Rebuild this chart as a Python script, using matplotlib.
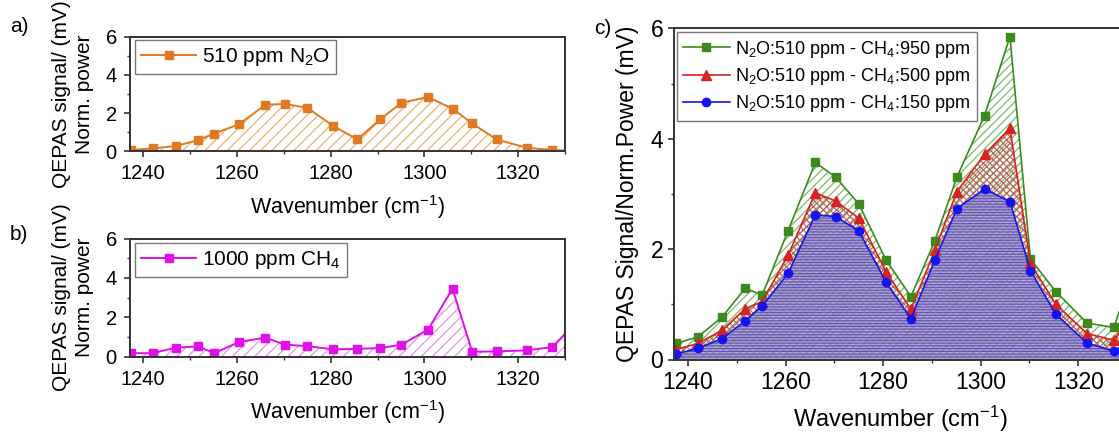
import matplotlib
matplotlib.use("Agg")
import matplotlib.pyplot as plt
from matplotlib.ticker import MultipleLocator

plt.rcParams['font.family'] = ['Liberation Sans', 'DejaVu Sans']
plt.rcParams['mathtext.default'] = 'regular'
plt.rcParams['hatch.linewidth'] = 0.9

# ---------------- data ----------------
wn = [1237.5, 1242, 1247, 1251.7, 1255.2, 1260.5, 1266.1, 1270.3, 1275, 1280.6,
      1285.7, 1290.6, 1295.1, 1300.8, 1306, 1310.2, 1315.4, 1321.8, 1327.3, 1332]

n2o_510 = [0.05, 0.14, 0.26, 0.57, 0.92, 1.41, 2.44, 2.47, 2.28, 1.31,
           0.61, 1.67, 2.54, 2.84, 2.23, 1.45, 0.61, 0.17, 0.05, 0.0]

ch4_1000 = [0.17, 0.17, 0.45, 0.51, 0.17, 0.74, 0.96, 0.60, 0.53, 0.36,
            0.39, 0.43, 0.60, 1.37, 3.45, 0.24, 0.26, 0.31, 0.48, 1.65]

mix_950 = [0.29, 0.41, 0.77, 1.29, 1.17, 2.33, 3.57, 3.30, 2.82, 1.80,
           1.14, 2.15, 3.30, 4.42, 5.85, 1.82, 1.23, 0.66, 0.58, 1.80]
mix_500 = [0.18, 0.29, 0.53, 0.92, 1.05, 1.89, 3.02, 2.87, 2.56, 1.59,
           0.91, 1.98, 3.04, 3.72, 4.19, 1.74, 1.00, 0.47, 0.35, 0.95]
mix_150 = [0.10, 0.20, 0.38, 0.70, 0.97, 1.56, 2.62, 2.59, 2.33, 1.40,
           0.74, 1.80, 2.73, 3.09, 2.86, 1.61, 0.82, 0.30, 0.15, 0.40]

label_a = '510 ppm N$_2$O'
label_b = '1000 ppm CH$_4$'
labels_c = ['N$_2$O:510 ppm - CH$_4$:950 ppm',
            'N$_2$O:510 ppm - CH$_4$:500 ppm',
            'N$_2$O:510 ppm - CH$_4$:150 ppm']
xticks = [1240, 1260, 1280, 1300, 1320]
yticks = [0, 2, 4, 6]

# ---------------- figure ----------------
W, H = 1119, 433
fig = plt.figure(figsize=(W / 100, H / 100), dpi=100)

def px_axes(l, t, r, b):
    return fig.add_axes([l / W, 1 - b / H, (r - l) / W, (b - t) / H])

ax_a = px_axes(130, 37, 565, 151)
ax_b = px_axes(130, 238.5, 565, 356.5)
ax_c = px_axes(674.4, 28.3, 1127, 359.5)

spine_col = '#333333'

def style(ax, fs_tick, xpad, ypad):
    ax.set_xlim(1237.2, 1330)
    ax.set_ylim(0, 6)
    ax.set_xticks(xticks)
    ax.set_yticks(yticks)
    ax.xaxis.set_minor_locator(MultipleLocator(10))
    ax.yaxis.set_minor_locator(MultipleLocator(1))
    ax.tick_params(which='major', direction='out', length=4.5, width=1.2,
                   colors=spine_col, labelcolor='black', labelsize=fs_tick)
    ax.tick_params(which='minor', direction='out', length=2.5, width=1.0, colors=spine_col)
    ax.tick_params(axis='x', which='major', pad=xpad)
    ax.tick_params(axis='y', which='major', pad=ypad)
    for s in ax.spines.values():
        s.set_color(spine_col)
        s.set_linewidth(1.4)

# ---- panel a ----
orange = '#E07A22'
ax_a.fill_between(wn, 0, n2o_510, facecolor='none', edgecolor='#F0B070',
                  hatch='///', linewidth=0)
ax_a.plot(wn, n2o_510, color=orange, marker='s', markersize=6, lw=1.4,
          label=label_a)
style(ax_a, 14.5, 5, 5)
ax_a.set_xlabel('Wavenumber (cm$^{-1}$)', fontsize=15.5, labelpad=7)
ax_a.set_ylabel('QEPAS signal/ (mV)\nNorm. power', fontsize=15, labelpad=8,
                linespacing=1.3)
leg = ax_a.legend(loc='upper left', bbox_to_anchor=(0.012, 0.975), fontsize=15,
                  frameon=True, fancybox=False, edgecolor='#555555',
                  handlelength=2.6, handletextpad=0.3, borderpad=0.3,
                  borderaxespad=0)
leg.get_frame().set_linewidth(1.0)

# ---- panel b ----
magenta = '#E010E8'
ax_b.fill_between(wn, 0, ch4_1000, facecolor='none', edgecolor='#E890F0',
                  hatch='///', linewidth=0)
ax_b.plot(wn, ch4_1000, color=magenta, marker='s', markersize=6, lw=1.4,
          label=label_b)
style(ax_b, 14.5, 5, 5)
ax_b.set_xlabel('Wavenumber (cm$^{-1}$)', fontsize=15.5, labelpad=7)
ax_b.set_ylabel('QEPAS signal/ (mV)\nNorm. power', fontsize=15, labelpad=8,
                linespacing=1.3)
leg = ax_b.legend(loc='upper left', bbox_to_anchor=(0.012, 0.965), fontsize=15,
                  frameon=True, fancybox=False, edgecolor='#555555',
                  handlelength=2.6, handletextpad=0.3, borderpad=0.3,
                  borderaxespad=0)
leg.get_frame().set_linewidth(1.0)

# ---- panel c ----
green = '#3C8A1E'
red = '#D82222'
blue = '#1414F0'
ax_c.fill_between(wn, 0, mix_950, facecolor='none', edgecolor='#7FB86A',
                  hatch='////', linewidth=0)
ax_c.fill_between(wn, 0, mix_500, facecolor='none', edgecolor='#B86A60',
                  hatch='xxxxx', linewidth=0)
ax_c.fill_between(wn, 0, mix_150, facecolor='#A898C8', edgecolor='#4848C0',
                  hatch='------', linewidth=0, alpha=0.8)
ax_c.plot(wn, mix_950, color=green, marker='s', markersize=5.5, lw=1.2,
          label=labels_c[0])
ax_c.plot(wn, mix_500, color=red, marker='^', markersize=6.5, lw=1.2,
          label=labels_c[1])
ax_c.plot(wn, mix_150, color=blue, marker='o', markersize=6, lw=1.2,
          label=labels_c[2])
style(ax_c, 16.5, 3.5, 3.5)
ax_c.set_xlabel('Wavenumber (cm$^{-1}$)', fontsize=17, labelpad=7)
ax_c.set_ylabel('QEPAS Signal/Norm.Power (mV)', fontsize=16.5, labelpad=8)
leg = ax_c.legend(loc='upper left', bbox_to_anchor=(0.005, 0.988), fontsize=13,
                  frameon=True, fancybox=False, edgecolor='#555555',
                  handlelength=2.6, handletextpad=0.3, borderpad=0.35,
                  labelspacing=0.35, borderaxespad=0)
leg.get_frame().set_linewidth(1.0)

# panel letters
fig.text(10 / W, 1 - 27 / H, 'a)', fontsize=15, va='center', ha='left')
fig.text(10 / W, 1 - 235 / H, 'b)', fontsize=15, va='center', ha='left')
fig.text(594 / W, 1 - 28 / H, 'c)', fontsize=15, va='center', ha='left')

fig.savefig('out.png', dpi=100)
